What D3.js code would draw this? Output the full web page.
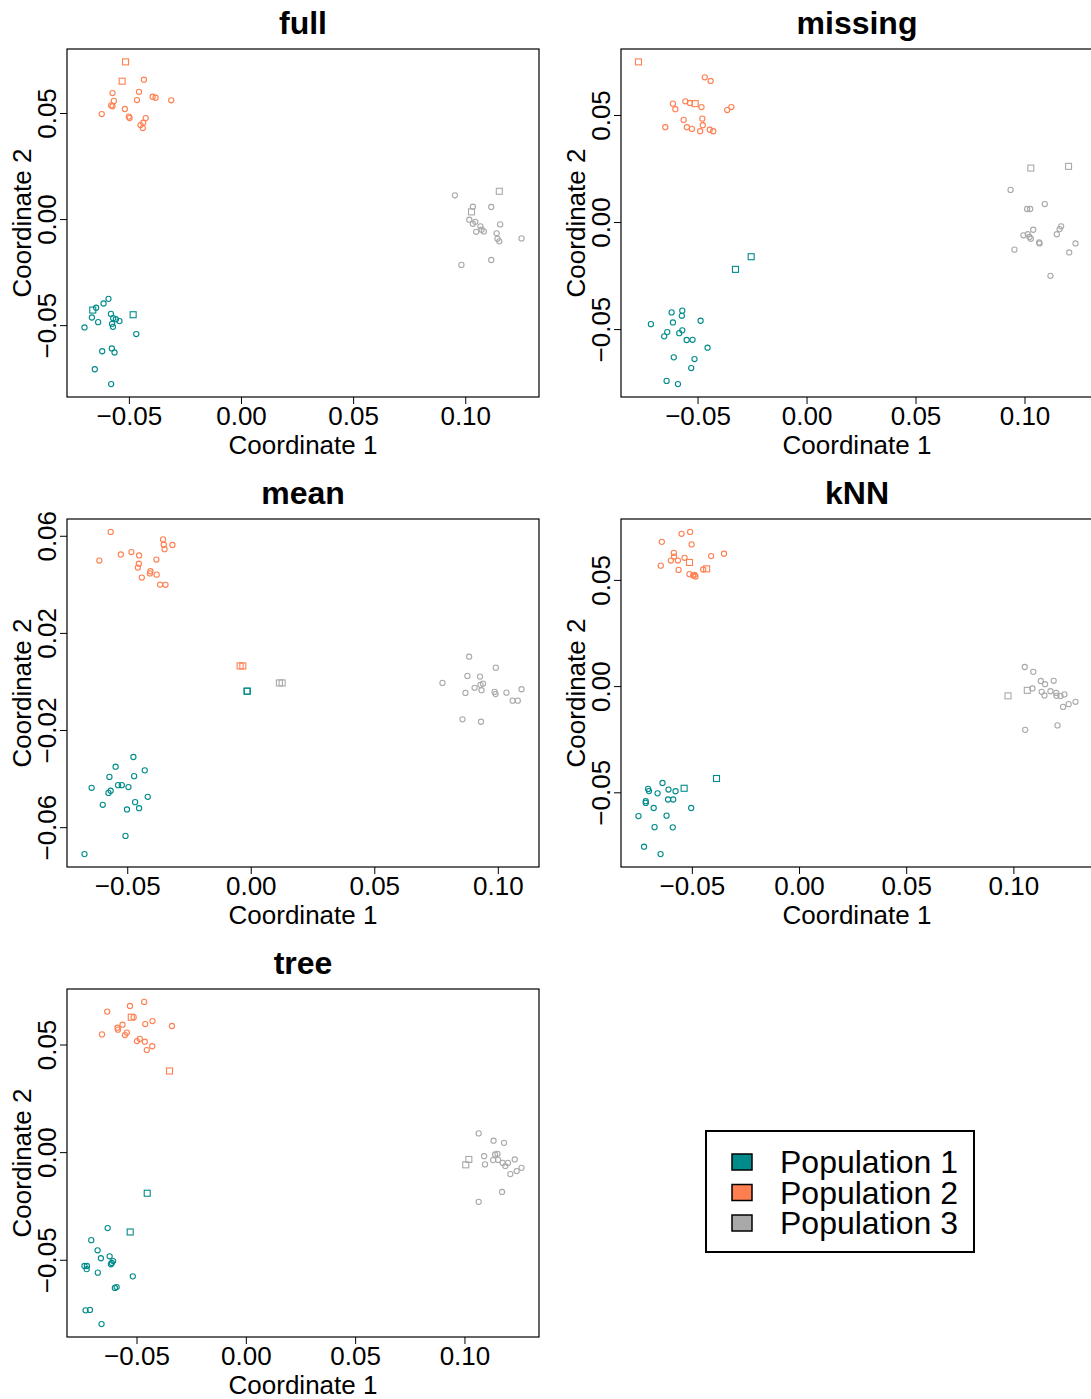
<!DOCTYPE html>
<html>
<head>
<meta charset="utf-8">
<script src="https://cdn.jsdelivr.net/npm/d3@7"></script>
<style>
  body { margin: 0; background: #fff; }
  svg { display: block; font-family: "Liberation Sans", Arial, Helvetica, sans-serif; }
</style>
</head>
<body>
<svg width="1091" height="1399"></svg>
<script>
const width = 1091;
const height = 1399;

// each point: [coord 1, coord 2, population, imputed (1 = square)]
const full = [
  [-0.0515, 0.0741, 2, 1], [-0.0530, 0.0650, 2, 1], [-0.0433, 0.0657, 2, 0], [-0.0573, 0.0594, 2, 0],
  [-0.0455, 0.0600, 2, 0], [-0.0394, 0.0577, 2, 0], [-0.0381, 0.0572, 2, 0], [-0.0311, 0.0560, 2, 0],
  [-0.0567, 0.0557, 2, 0], [-0.0464, 0.0561, 2, 0], [-0.0579, 0.0536, 2, 0], [-0.0573, 0.0532, 2, 0],
  [-0.0621, 0.0495, 2, 0], [-0.0518, 0.0519, 2, 0], [-0.0500, 0.0483, 2, 0], [-0.0497, 0.0476, 2, 0],
  [-0.0425, 0.0476, 2, 0], [-0.0436, 0.0454, 2, 0], [-0.0448, 0.0443, 2, 0], [-0.0438, 0.0429, 2, 0],
  [-0.0661, -0.0429, 1, 1], [-0.0646, -0.0418, 1, 0], [-0.0613, -0.0398, 1, 0], [-0.0591, -0.0376, 1, 0],
  [-0.0481, -0.0451, 1, 1], [-0.0665, -0.0464, 1, 0], [-0.0637, -0.0486, 1, 0], [-0.0698, -0.0511, 1, 0],
  [-0.0580, -0.0447, 1, 0], [-0.0570, -0.0467, 1, 0], [-0.0558, -0.0472, 1, 0], [-0.0542, -0.0481, 1, 0],
  [-0.0575, -0.0494, 1, 0], [-0.0571, -0.0508, 1, 0], [-0.0467, -0.0542, 1, 0], [-0.0619, -0.0623, 1, 0],
  [-0.0576, -0.0610, 1, 0], [-0.0564, -0.0629, 1, 0], [-0.0652, -0.0708, 1, 0], [-0.0579, -0.0778, 1, 0],
  [0.0954, 0.0112, 3, 0], [0.1152, 0.0131, 3, 1], [0.1034, 0.0058, 3, 0], [0.1028, 0.0034, 3, 1],
  [0.1116, 0.0057, 3, 0], [0.1018, -0.0003, 3, 0], [0.1045, -0.0013, 3, 0], [0.1034, -0.0022, 3, 0],
  [0.1068, -0.0034, 3, 0], [0.1073, -0.0050, 3, 0], [0.1083, -0.0058, 3, 0], [0.1049, -0.0060, 3, 0],
  [0.1156, -0.0025, 3, 0], [0.1140, -0.0067, 3, 0], [0.1144, -0.0093, 3, 0], [0.1152, -0.0105, 3, 0],
  [0.1251, -0.0091, 3, 0], [0.1116, -0.0193, 3, 0], [0.0983, -0.0216, 3, 0]
];

const missing = [
  [-0.0771, 0.0748, 2, 1], [-0.0467, 0.0676, 2, 0], [-0.0440, 0.0659, 2, 0], [-0.0613, 0.0553, 2, 0],
  [-0.0602, 0.0527, 2, 0], [-0.0556, 0.0564, 2, 0], [-0.0535, 0.0556, 2, 0], [-0.0511, 0.0553, 2, 1],
  [-0.0482, 0.0537, 2, 0], [-0.0345, 0.0537, 2, 0], [-0.0364, 0.0523, 2, 0], [-0.0564, 0.0477, 2, 0],
  [-0.0478, 0.0483, 2, 0], [-0.0476, 0.0452, 2, 0], [-0.0648, 0.0443, 2, 0], [-0.0549, 0.0443, 2, 0],
  [-0.0526, 0.0435, 2, 0], [-0.0488, 0.0424, 2, 0], [-0.0444, 0.0431, 2, 0], [-0.0428, 0.0424, 2, 0],
  [-0.0254, -0.0162, 1, 1], [-0.0326, -0.0221, 1, 1], [-0.0619, -0.0422, 1, 0], [-0.0570, -0.0414, 1, 0],
  [-0.0572, -0.0438, 1, 0], [-0.0714, -0.0477, 1, 0], [-0.0613, -0.0469, 1, 0], [-0.0486, -0.0461, 1, 0],
  [-0.0639, -0.0514, 1, 0], [-0.0653, -0.0534, 1, 0], [-0.0570, -0.0506, 1, 0], [-0.0584, -0.0519, 1, 0],
  [-0.0550, -0.0551, 1, 0], [-0.0523, -0.0550, 1, 0], [-0.0454, -0.0587, 1, 0], [-0.0609, -0.0632, 1, 0],
  [-0.0514, -0.0640, 1, 0], [-0.0529, -0.0682, 1, 0], [-0.0642, -0.0742, 1, 0], [-0.0590, -0.0757, 1, 0],
  [0.1029, 0.0252, 3, 1], [0.1202, 0.0260, 3, 1], [0.0936, 0.0150, 3, 0], [0.1012, 0.0061, 3, 0],
  [0.1026, 0.0061, 3, 0], [0.1093, 0.0084, 3, 0], [0.1040, -0.0036, 3, 0], [0.0995, -0.0062, 3, 0],
  [0.1015, -0.0057, 3, 0], [0.1023, -0.0070, 3, 0], [0.1029, -0.0078, 3, 0], [0.1067, -0.0095, 3, 0],
  [0.1069, -0.0100, 3, 0], [0.1168, -0.0020, 3, 0], [0.1161, -0.0033, 3, 0], [0.1148, -0.0057, 3, 0],
  [0.1234, -0.0100, 3, 0], [0.1205, -0.0142, 3, 0], [0.0954, -0.0129, 3, 0], [0.1119, -0.0251, 3, 0]
];

const mean = [
  [-0.0567, 0.0616, 2, 0], [-0.0355, 0.0585, 2, 0], [-0.0352, 0.0563, 2, 0], [-0.0317, 0.0562, 2, 0],
  [-0.0349, 0.0545, 2, 0], [-0.0526, 0.0523, 2, 0], [-0.0483, 0.0533, 2, 0], [-0.0452, 0.0519, 2, 0],
  [-0.0613, 0.0498, 2, 0], [-0.0382, 0.0502, 2, 0], [-0.0453, 0.0485, 2, 0], [-0.0457, 0.0469, 2, 0],
  [-0.0406, 0.0454, 2, 0], [-0.0408, 0.0445, 2, 0], [-0.0381, 0.0440, 2, 0], [-0.0441, 0.0428, 2, 0],
  [-0.0367, 0.0399, 2, 0], [-0.0345, 0.0398, 2, 0], [-0.0043, 0.0064, 2, 1], [-0.0032, 0.0064, 2, 1],
  [-0.0475, -0.0311, 1, 0], [-0.0547, -0.0351, 1, 0], [-0.0429, -0.0366, 1, 0], [-0.0572, -0.0393, 1, 0],
  [-0.0472, -0.0390, 1, 0], [-0.0644, -0.0438, 1, 0], [-0.0537, -0.0427, 1, 0], [-0.0522, -0.0427, 1, 0],
  [-0.0495, -0.0435, 1, 0], [-0.0567, -0.0450, 1, 0], [-0.0576, -0.0459, 1, 0], [-0.0417, -0.0475, 1, 0],
  [-0.0599, -0.0508, 1, 0], [-0.0468, -0.0497, 1, 0], [-0.0501, -0.0527, 1, 0], [-0.0452, -0.0522, 1, 0],
  [-0.0507, -0.0636, 1, 0], [-0.0673, -0.0711, 1, 0], [-0.0015, -0.0040, 1, 1], [-0.0014, -0.0040, 1, 1],
  [0.0884, 0.0102, 3, 0], [0.0992, 0.0057, 3, 0], [0.0776, -0.0006, 3, 0], [0.0877, 0.0023, 3, 0],
  [0.0928, 0.0020, 3, 0], [0.0906, -0.0026, 3, 0], [0.0869, -0.0047, 3, 0], [0.0930, -0.0014, 3, 0],
  [0.0940, -0.0009, 3, 0], [0.0934, -0.0036, 3, 0], [0.0987, -0.0043, 3, 0], [0.0991, -0.0052, 3, 0],
  [0.1035, -0.0046, 3, 0], [0.1096, -0.0032, 3, 0], [0.1060, -0.0079, 3, 0], [0.1081, -0.0079, 3, 0],
  [0.0857, -0.0156, 3, 0], [0.0932, -0.0166, 3, 0], [0.0116, -0.0006, 3, 1], [0.0127, -0.0006, 3, 1]
];

const knn = [
  [-0.0548, 0.0717, 2, 0], [-0.0508, 0.0726, 2, 0], [-0.0640, 0.0679, 2, 0], [-0.0501, 0.0667, 2, 0],
  [-0.0350, 0.0623, 2, 0], [-0.0410, 0.0612, 2, 0], [-0.0584, 0.0627, 2, 0], [-0.0583, 0.0610, 2, 0],
  [-0.0534, 0.0604, 2, 0], [-0.0511, 0.0582, 2, 1], [-0.0598, 0.0591, 2, 0], [-0.0565, 0.0591, 2, 0],
  [-0.0645, 0.0567, 2, 0], [-0.0562, 0.0547, 2, 0], [-0.0511, 0.0527, 2, 0], [-0.0487, 0.0524, 2, 0],
  [-0.0483, 0.0516, 2, 0], [-0.0447, 0.0549, 2, 0], [-0.0431, 0.0552, 2, 1], [-0.0494, 0.0521, 2, 0],
  [-0.0385, -0.0435, 1, 1], [-0.0637, -0.0456, 1, 0], [-0.0536, -0.0481, 1, 1], [-0.0704, -0.0484, 1, 0],
  [-0.0700, -0.0494, 1, 0], [-0.0609, -0.0487, 1, 0], [-0.0576, -0.0495, 1, 0], [-0.0660, -0.0505, 1, 0],
  [-0.0715, -0.0542, 1, 0], [-0.0715, -0.0550, 1, 0], [-0.0611, -0.0534, 1, 0], [-0.0587, -0.0534, 1, 0],
  [-0.0678, -0.0574, 1, 0], [-0.0503, -0.0574, 1, 0], [-0.0749, -0.0612, 1, 0], [-0.0618, -0.0610, 1, 0],
  [-0.0674, -0.0664, 1, 0], [-0.0589, -0.0665, 1, 0], [-0.0723, -0.0756, 1, 0], [-0.0646, -0.0791, 1, 0],
  [0.1053, 0.0090, 3, 0], [0.1093, 0.0067, 3, 0], [0.1128, 0.0024, 3, 0], [0.1148, 0.0009, 3, 0],
  [0.1188, 0.0025, 3, 0], [0.0975, -0.0046, 3, 1], [0.1065, -0.0020, 3, 1], [0.1089, -0.0011, 3, 0],
  [0.1132, -0.0027, 3, 0], [0.1145, -0.0044, 3, 0], [0.1173, -0.0024, 3, 0], [0.1200, -0.0032, 3, 0],
  [0.1201, -0.0046, 3, 0], [0.1220, -0.0047, 3, 0], [0.1238, -0.0039, 3, 0], [0.1232, -0.0098, 3, 0],
  [0.1258, -0.0085, 3, 0], [0.1290, -0.0074, 3, 0], [0.1055, -0.0206, 3, 0], [0.1206, -0.0185, 3, 0]
];

const tree = [
  [-0.0465, 0.0698, 2, 0], [-0.0530, 0.0679, 2, 0], [-0.0634, 0.0653, 2, 0], [-0.0524, 0.0627, 2, 1],
  [-0.0513, 0.0627, 2, 0], [-0.0427, 0.0609, 2, 0], [-0.0338, 0.0586, 2, 0], [-0.0564, 0.0592, 2, 0],
  [-0.0460, 0.0595, 2, 0], [-0.0658, 0.0547, 2, 0], [-0.0587, 0.0578, 2, 0], [-0.0585, 0.0569, 2, 0],
  [-0.0544, 0.0555, 2, 0], [-0.0553, 0.0544, 2, 0], [-0.0485, 0.0526, 2, 0], [-0.0498, 0.0516, 2, 0],
  [-0.0462, 0.0513, 2, 0], [-0.0428, 0.0492, 2, 0], [-0.0453, 0.0474, 2, 0], [-0.0349, 0.0377, 2, 1],
  [-0.0451, -0.0191, 1, 1], [-0.0632, -0.0353, 1, 0], [-0.0529, -0.0371, 1, 1], [-0.0707, -0.0409, 1, 0],
  [-0.0678, -0.0456, 1, 0], [-0.0663, -0.0493, 1, 0], [-0.0623, -0.0484, 1, 0], [-0.0607, -0.0506, 1, 0],
  [-0.0613, -0.0515, 1, 0], [-0.0617, -0.0521, 1, 0], [-0.0738, -0.0529, 1, 0], [-0.0727, -0.0529, 1, 0],
  [-0.0728, -0.0544, 1, 0], [-0.0677, -0.0560, 1, 0], [-0.0517, -0.0577, 1, 0], [-0.0599, -0.0631, 1, 0],
  [-0.0591, -0.0627, 1, 0], [-0.0733, -0.0735, 1, 0], [-0.0713, -0.0733, 1, 0], [-0.0660, -0.0799, 1, 0],
  [0.1065, 0.0087, 3, 0], [0.1133, 0.0053, 3, 0], [0.1181, 0.0043, 3, 0], [0.1020, -0.0034, 3, 1],
  [0.1006, -0.0059, 3, 1], [0.1090, -0.0019, 3, 0], [0.1094, -0.0057, 3, 0], [0.1140, -0.0011, 3, 0],
  [0.1151, -0.0008, 3, 0], [0.1131, -0.0037, 3, 0], [0.1154, -0.0036, 3, 0], [0.1175, -0.0050, 3, 0],
  [0.1199, -0.0050, 3, 0], [0.1187, -0.0065, 3, 0], [0.1230, -0.0034, 3, 0], [0.1261, -0.0073, 3, 0],
  [0.1239, -0.0088, 3, 0], [0.1210, -0.0102, 3, 0], [0.1172, -0.0185, 3, 0], [0.1065, -0.0231, 3, 0]
];

const panelTitles = ["full", "missing", "mean", "kNN", "tree"];
const xTicks = [-0.05, 0, 0.05, 0.10];
const yTicks = [-0.05, 0, 0.05];
const yTicksMean = [-0.06, -0.02, 0.02, 0.06];
const popNames = ["Population 1", "Population 2", "Population 3"];
const popColors = ["#008B8B", "#FF7F50", "#A9A9A9"];

const svg = d3.select("svg");

const boxW = 472;
const boxH = 348;
const fmt = d3.format(".2f");

//--------------------one panel--------------------
function drawPanel(data, title, yt, col, row) {
    const left = 67 + col * 554;
    const top = 49 + row * 470;

    // R style range: data extent plus 4% each side
    const xe = d3.extent(data, d => d[0]);
    const ye = d3.extent(data, d => d[1]);
    const xp = (xe[1] - xe[0]) * 0.04;
    const yp = (ye[1] - ye[0]) * 0.04;

    const x = d3.scaleLinear().domain([xe[0] - xp, xe[1] + xp]).range([left, left + boxW]);
    const y = d3.scaleLinear().domain([ye[0] - yp, ye[1] + yp]).range([top + boxH, top]);

    const g = svg.append("g");

    // x axis
    const xa = g.append("g")
        .attr("transform", "translate(0," + (top + boxH) + ")")
        .call(d3.axisBottom(x).tickValues(xTicks).tickFormat(fmt).tickSize(7).tickPadding(3));
    // y axis
    const ya = g.append("g")
        .attr("transform", "translate(" + left + ",0)")
        .call(d3.axisLeft(y).tickValues(yt).tickFormat(fmt).tickSize(7).tickPadding(6));

    [xa, ya].forEach(a => {
        a.select(".domain").remove();
        a.selectAll("line").attr("stroke", "#000").attr("stroke-width", 1);
        a.selectAll("text").attr("font-size", 26).attr("fill", "#000")
            .attr("font-family", "Liberation Sans, Arial, sans-serif");
    });

    // rotate y tick labels like R (las = 0); each tick group is already moved to y(d)
    ya.selectAll("text")
        .attr("x", -20)
        .attr("y", 0)
        .attr("dy", "0.35em")
        .attr("text-anchor", "middle")
        .attr("transform", "rotate(-90,-20,0)");

    // box
    g.append("rect")
        .attr("x", left)
        .attr("y", top)
        .attr("width", boxW)
        .attr("height", boxH)
        .attr("fill", "none")
        .attr("stroke", "#000")
        .attr("stroke-width", 1.2);

    // titles
    g.append("text")
        .attr("x", left + boxW / 2)
        .attr("y", top - 15)
        .attr("text-anchor", "middle")
        .attr("font-size", 32)
        .attr("font-weight", "bold")
        .text(title);

    g.append("text")
        .attr("x", left + boxW / 2)
        .attr("y", top + boxH + 57)
        .attr("text-anchor", "middle")
        .attr("font-size", 26)
        .text("Coordinate 1");

    g.append("text")
        .attr("transform", "translate(" + (left - 45) + "," + (top + boxH / 2) + ") rotate(-90)")
        .attr("dy", "0.35em")
        .attr("text-anchor", "middle")
        .attr("font-size", 26)
        .text("Coordinate 2");

    // points
    const pts = g.append("g");
    pts.selectAll("circle")
        .data(data.filter(d => d[3] == 0))
        .enter()
        .append("circle")
        .attr("cx", d => x(d[0]))
        .attr("cy", d => y(d[1]))
        .attr("r", 2.6)
        .attr("fill", "none")
        .attr("stroke", d => popColors[d[2] - 1])
        .attr("stroke-width", 1.1);

    const s = 6;
    pts.selectAll("rect")
        .data(data.filter(d => d[3] == 1))
        .enter()
        .append("rect")
        .attr("x", d => x(d[0]) - s / 2)
        .attr("y", d => y(d[1]) - s / 2)
        .attr("width", s)
        .attr("height", s)
        .attr("fill", "none")
        .attr("stroke", d => popColors[d[2] - 1])
        .attr("stroke-width", 1.1);
}

const panelData = [full, missing, mean, knn, tree];
panelData.forEach((d, i) => {
    drawPanel(d, panelTitles[i], i == 2 ? yTicksMean : yTicks, i % 2, Math.floor(i / 2));
});

//--------------------legend--------------------
const lg = svg.append("g");
lg.append("rect")
    .attr("x", 706)
    .attr("y", 1131)
    .attr("width", 268)
    .attr("height", 121)
    .attr("fill", "none")
    .attr("stroke", "#000")
    .attr("stroke-width", 2);

popNames.forEach((name, i) => {
    const cy = 1162 + i * 30.5;
    lg.append("rect")
        .attr("x", 732)
        .attr("y", cy - 8)
        .attr("width", 20)
        .attr("height", 16)
        .attr("fill", popColors[i])
        .attr("stroke", "#000")
        .attr("stroke-width", 1.5);
    lg.append("text")
        .attr("x", 780)
        .attr("y", cy)
        .attr("dy", "0.35em")
        .attr("font-size", 32)
        .text(name);
});
</script>
</body>
</html>
